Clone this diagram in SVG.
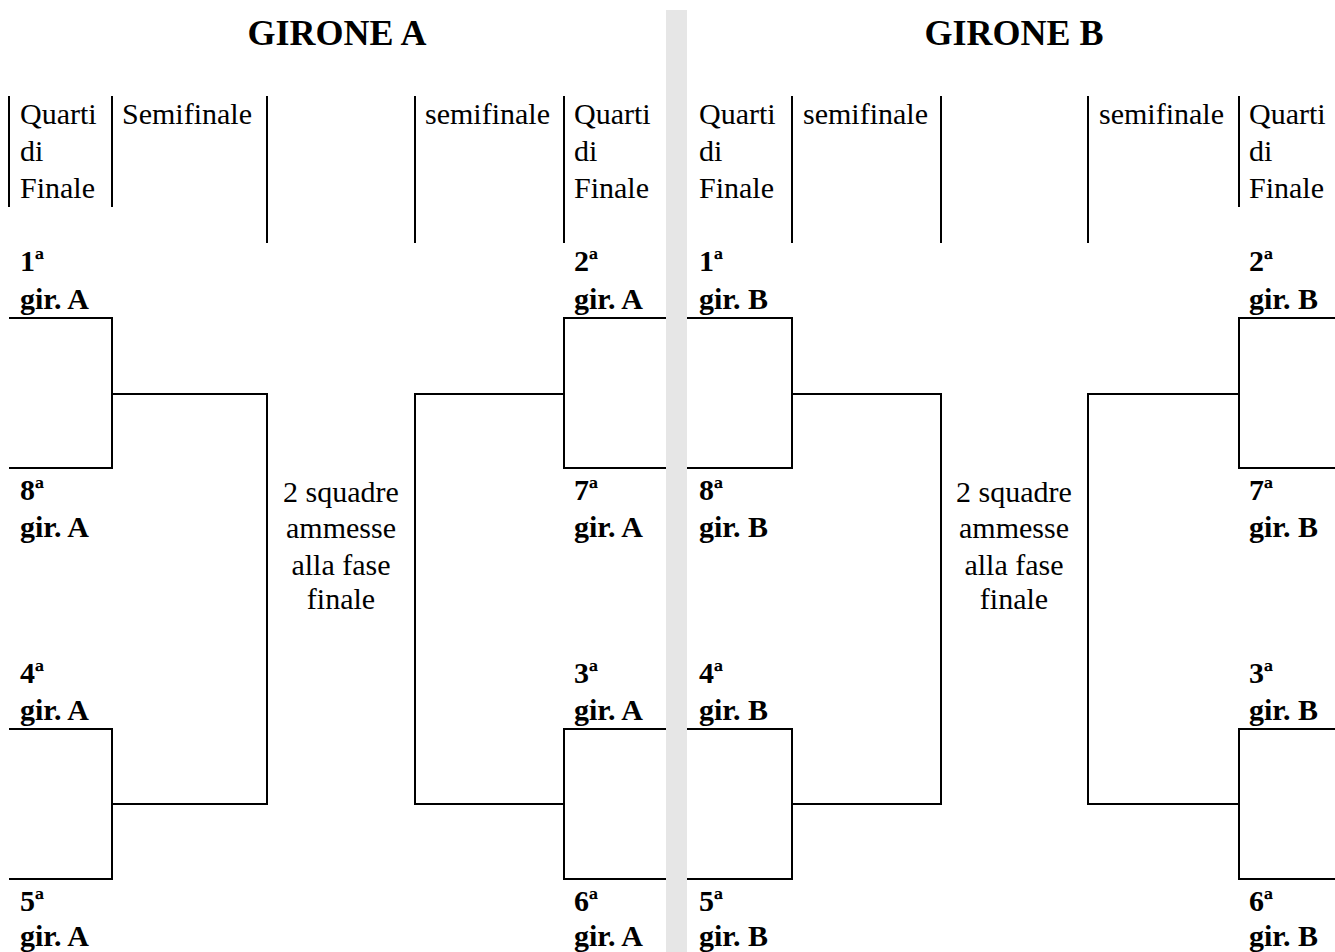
<svg xmlns="http://www.w3.org/2000/svg" width="1335" height="952" viewBox="0 0 1335 952">
<style>
text{font-family:"Liberation Serif","Times New Roman",serif;fill:#000}
.t{font-size:36px;font-weight:bold}
.h{font-size:30px}
.r{font-size:30px;font-weight:bold}
.m{font-size:30px;text-anchor:middle}
.ln{stroke:#000;stroke-width:2;fill:none}
</style>
<rect x="0" y="0" width="1335" height="952" fill="#fff"/>
<rect id="band" x="666" y="10" width="21" height="942" fill="#e6e6e6"/>
<g id="titles">
<text class="t" x="337" y="45" text-anchor="middle">GIRONE A</text>
<text class="t" x="1014" y="45" text-anchor="middle">GIRONE B</text>
</g>
<g id="headers">
<path class="ln" d="M9,96V207M112,96V207M267,96V243M415,96V243M564,96V243M792,96V243M941,96V243M1088,96V243M1239,96V207"/>
<text class="h" x="20" y="124">Quarti</text><text class="h" x="20" y="161">di</text><text class="h" x="20" y="198">Finale</text>
<text class="h" x="122" y="124">Semifinale</text>
<text class="h" x="425" y="124">semifinale</text>
<text class="h" x="574" y="124">Quarti</text><text class="h" x="574" y="161">di</text><text class="h" x="574" y="198">Finale</text>
<text class="h" x="699" y="124">Quarti</text><text class="h" x="699" y="161">di</text><text class="h" x="699" y="198">Finale</text>
<text class="h" x="803" y="124">semifinale</text>
<text class="h" x="1099" y="124">semifinale</text>
<text class="h" x="1249" y="124">Quarti</text><text class="h" x="1249" y="161">di</text><text class="h" x="1249" y="198">Finale</text>
</g>
<g id="connectors">
<path class="ln" d="M9,318H112V468H9M112,394H267V804H112M9,729H112V879H9"/>
<path class="ln" d="M666,318H564V468H666M564,394H415V804H564M666,729H564V879H666"/>
<path class="ln" d="M687,318H792V468H687M792,394H941V804H792M687,729H792V879H687"/>
<path class="ln" d="M1335,318H1239V468H1335M1239,394H1088V804H1239M1335,729H1239V879H1335"/>
</g>
<g id="teamsA">
<text class="r" x="20" y="271">1ª</text><text class="r" x="20" y="309">gir. A</text>
<text class="r" x="20" y="500">8ª</text><text class="r" x="20" y="537">gir. A</text>
<text class="r" x="20" y="683">4ª</text><text class="r" x="20" y="720">gir. A</text>
<text class="r" x="20" y="911">5ª</text><text class="r" x="20" y="946">gir. A</text>
<text class="r" x="574" y="271">2ª</text><text class="r" x="574" y="309">gir. A</text>
<text class="r" x="574" y="500">7ª</text><text class="r" x="574" y="537">gir. A</text>
<text class="r" x="574" y="683">3ª</text><text class="r" x="574" y="720">gir. A</text>
<text class="r" x="574" y="911">6ª</text><text class="r" x="574" y="946">gir. A</text>
</g>
<g id="teamsB">
<text class="r" x="699" y="271">1ª</text><text class="r" x="699" y="309">gir. B</text>
<text class="r" x="699" y="500">8ª</text><text class="r" x="699" y="537">gir. B</text>
<text class="r" x="699" y="683">4ª</text><text class="r" x="699" y="720">gir. B</text>
<text class="r" x="699" y="911">5ª</text><text class="r" x="699" y="946">gir. B</text>
<text class="r" x="1249" y="271">2ª</text><text class="r" x="1249" y="309">gir. B</text>
<text class="r" x="1249" y="500">7ª</text><text class="r" x="1249" y="537">gir. B</text>
<text class="r" x="1249" y="683">3ª</text><text class="r" x="1249" y="720">gir. B</text>
<text class="r" x="1249" y="911">6ª</text><text class="r" x="1249" y="946">gir. B</text>
</g>
<g id="finalA">
<text class="m" x="341" y="502">2 squadre</text><text class="m" x="341" y="538">ammesse</text><text class="m" x="341" y="575">alla fase</text><text class="m" x="341" y="609">finale</text>
</g>
<g id="finalB">
<text class="m" x="1014" y="502">2 squadre</text><text class="m" x="1014" y="538">ammesse</text><text class="m" x="1014" y="575">alla fase</text><text class="m" x="1014" y="609">finale</text>
</g>
</svg>
